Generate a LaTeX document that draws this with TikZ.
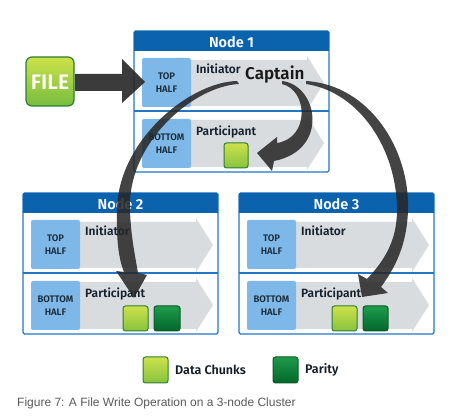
\documentclass[tikz,border=0pt]{standalone}
\usepackage{fontspec}
\setmainfont{Fira Sans}
\newfontfamily\semib{Fira Sans SemiBold}
\newfontfamily\capfont{Liberation Sans}
\usetikzlibrary{shadings}
\definecolor{hdrblue}{HTML}{0B63AE}
\definecolor{frameblue}{HTML}{2475C2}
\definecolor{boxblue}{HTML}{7DB8E8}
\definecolor{greyarr}{HTML}{D9DCDF}
\definecolor{navytxt}{HTML}{1C2B39}
\definecolor{lgtop}{HTML}{CDE24A}
\definecolor{lgbot}{HTML}{86C23E}
\definecolor{dgtop}{HTML}{1E9B4B}
\definecolor{dgbot}{HTML}{02672C}
\definecolor{gborder}{HTML}{2E7D32}
\definecolor{dgborder}{HTML}{0D5A28}
\definecolor{arrowdark}{HTML}{262626}
\definecolor{captgrey}{HTML}{5A5A5A}
\tikzset{
  hdr/.style={fill=hdrblue},
  nodeframe/.style={draw=frameblue,line width=1.2pt,fill=white,rounded corners=1.5pt},
  halfbox/.style={fill=boxblue,rounded corners=2pt},
  halftxt/.style={text=navytxt,font=\semib\fontsize{9.5}{12.5}\selectfont,align=center,inner sep=0pt},
  roletxt/.style={text=navytxt!80!black,font=\semib\fontsize{12}{13}\selectfont,anchor=base west,inner sep=0pt},
  titletxt/.style={text=white,font=\semib\fontsize{14.5}{16}\selectfont,inner sep=0pt},
  datachunk/.style={draw=gborder,line width=1pt,rounded corners=2.5pt,top color=lgtop,bottom color=lgbot},
  paritychunk/.style={draw=dgborder,line width=1pt,rounded corners=2.5pt,top color=dgtop,bottom color=dgbot},
  carrow/.style={fill=arrowdark,fill opacity=0.86},
  legendtxt/.style={text=navytxt!70!black,font=\semib\fontsize{12.5}{13}\selectfont,anchor=west,inner sep=0pt},
}
% #1 prefix, #2 x, #3 y, #4 title
\newcommand\clusterbox[4]{%
  \begin{scope}[shift={(#2,#3)}]
    \path[nodeframe] (0,0) rectangle (195,141);
    \fill[hdr,rounded corners=1.5pt] (0,0) rectangle (195,20);
    \fill[hdr] (0,10) rectangle (195,20);
    \draw[frameblue,line width=1.2pt] (0,80) -- (195,80);
    \fill[greyarr] (57,29) -- (173,29) -- (173,25) -- (190,52) -- (173,79) -- (173,75) -- (57,75) -- cycle;
    \fill[greyarr] (57,89) -- (173,89) -- (173,85) -- (190,112) -- (173,139) -- (173,136) -- (57,136) -- cycle;
    \path[halfbox] (8,27) rectangle (57,76);
    \path[halfbox] (8,88) rectangle (57,137);
    \node[titletxt] (#1title) at (97.5,11) {#4};
    \node[halftxt] (#1top) at (32.5,51.5) {TOP\\HALF};
    \node[halftxt] (#1bot) at (32.5,112.5) {BOTTOM\\HALF};
    \node[roletxt] (#1init) at (62,43) {Initiator};
    \node[roletxt] (#1part) at (62,105) {Participant};
  \end{scope}}
\begin{document}
\begin{tikzpicture}[x=1pt,y=-1pt]
\useasboundingbox[fill=white] (0,0) rectangle (451,420);
\clusterbox{n1}{134}{31}{Node 1}
\clusterbox{n2}{23}{193}{Node 2}
\clusterbox{n3}{239}{193}{Node 3}
% chunks
\path[datachunk] (224,143) rectangle (248,168);
\path[datachunk] (123,306) rectangle (148,331);
\path[paritychunk] (154,306) rectangle (180,331);
\path[datachunk] (332,306) rectangle (357,331);
\path[paritychunk] (363,306) rectangle (388,331);
% file
\path[draw=gborder,line width=1.2pt,rounded corners=6pt,top color=lgtop,bottom color=lgbot!85!dgtop] (26,57) rectangle (74,106);
\node[text=white,font=\semib\fontsize{21}{22}\selectfont,inner sep=0pt] (file) at (50,82) {FILE};
\fill[arrowdark,fill opacity=0.9] (75,74) -- (122,74) -- (122,59) -- (145,82) -- (122,103) -- (122,91) -- (75,91) -- cycle;
% curved arrows
\fill[carrow] (282,81) .. controls (318,85) and (330,150) .. (274,161) -- (272,171) -- (257,153) -- (277,137) -- (277,143) .. controls (310,138) and (308,90) .. (282,84) -- cycle;
\fill[carrow] (237,81) .. controls (190,82) and (118,140) .. (117,210) .. controls (116,240) and (119,260) .. (124,272) -- (116,271) -- (134,298) -- (147,275) -- (138,273) .. controls (134,250) and (130,230) .. (130,205) .. controls (130,140) and (195,86) .. (239,84) -- cycle;
\fill[carrow] (306,81) .. controls (370,85) and (410,150) .. (408,210) .. controls (407,245) and (395,268) .. (381,287) -- (388,293) -- (362,297) -- (358,274) -- (367,279) .. controls (385,260) and (397,240) .. (397,210) .. controls (397,150) and (360,92) .. (306,84) -- cycle;
\node[text=black!90,font=\semib\fontsize{17}{18}\selectfont,anchor=base west,inner sep=0pt] (captain) at (245,80) {Captain};
% legend
\path[datachunk] (143,357) rectangle (168,383);
\node[legendtxt] (ldata) at (175,370) {Data Chunks};
\path[paritychunk] (273,357) rectangle (298,383);
\node[legendtxt] (lpar) at (305,370) {Parity};
% caption
\node[text=captgrey,font=\capfont\fontsize{12}{14}\selectfont,anchor=west,inner sep=0pt] (caption) at (17,403) {Figure 7: A File Write Operation on a 3-node Cluster};
\end{tikzpicture}
\end{document}
